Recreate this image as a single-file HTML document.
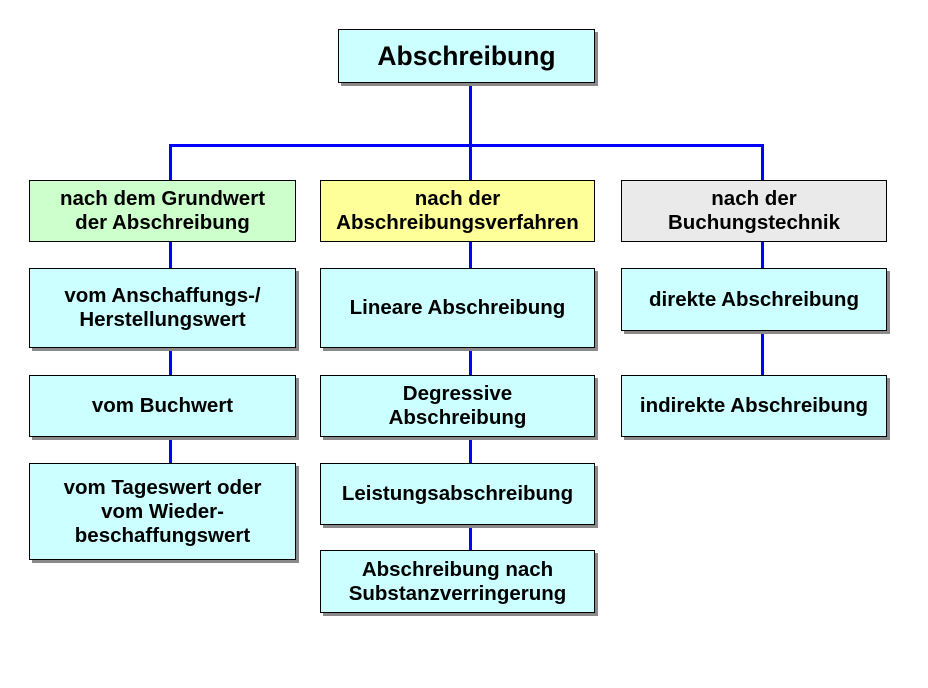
<!DOCTYPE html>
<html><head><meta charset="utf-8"><style>
body{margin:0;width:928px;height:688px;background:#fff;position:relative;overflow:hidden;font-family:"Liberation Sans",Arial,sans-serif;}
.b{position:absolute;box-sizing:border-box;border:1px solid #000;display:flex;align-items:center;justify-content:center;text-align:center;font-weight:bold;font-size:20.5px;line-height:24px;color:#000;background:#ccffff;}
.s{box-shadow:3px 3px 0 #8a8a8a;}
.l{position:absolute;background:#0000ff;}
</style></head><body>
<div class="l" style="left:469px;top:82px;width:3px;height:98px"></div>
<div class="l" style="left:169px;top:144px;width:595px;height:3px"></div>
<div class="l" style="left:169px;top:144px;width:3px;height:36px"></div>
<div class="l" style="left:761px;top:144px;width:3px;height:36px"></div>
<div class="l" style="left:169px;top:241px;width:3px;height:222px"></div>
<div class="l" style="left:469px;top:241px;width:3px;height:310px"></div>
<div class="l" style="left:761px;top:241px;width:3px;height:134px"></div>

<div class="b s" style="left:338px;top:29px;width:257px;height:54px;font-size:26.5px">Abschreibung</div>

<div class="b" style="left:29px;top:180px;width:267px;height:62px;background:#ccffcc">nach dem Grundwert<br>der Abschreibung</div>
<div class="b" style="left:320px;top:180px;width:275px;height:62px;background:#ffff99">nach der<br>Abschreibungsverfahren</div>
<div class="b" style="left:621px;top:180px;width:266px;height:62px;background:#eaeaea">nach der<br>Buchungstechnik</div>

<div class="b s" style="left:29px;top:268px;width:267px;height:80px">vom Anschaffungs-/<br>Herstellungswert</div>
<div class="b s" style="left:29px;top:375px;width:267px;height:62px">vom Buchwert</div>
<div class="b s" style="left:29px;top:463px;width:267px;height:97px">vom Tageswert oder<br>vom Wieder-<br>beschaffungswert</div>

<div class="b s" style="left:320px;top:268px;width:275px;height:80px">Lineare Abschreibung</div>
<div class="b s" style="left:320px;top:375px;width:275px;height:62px">Degressive<br>Abschreibung</div>
<div class="b s" style="left:320px;top:463px;width:275px;height:62px">Leistungsabschreibung</div>
<div class="b s" style="left:320px;top:550px;width:275px;height:63px">Abschreibung nach<br>Substanzverringerung</div>

<div class="b s" style="left:621px;top:268px;width:266px;height:63px">direkte Abschreibung</div>
<div class="b s" style="left:621px;top:375px;width:266px;height:62px">indirekte Abschreibung</div>
</body></html>
